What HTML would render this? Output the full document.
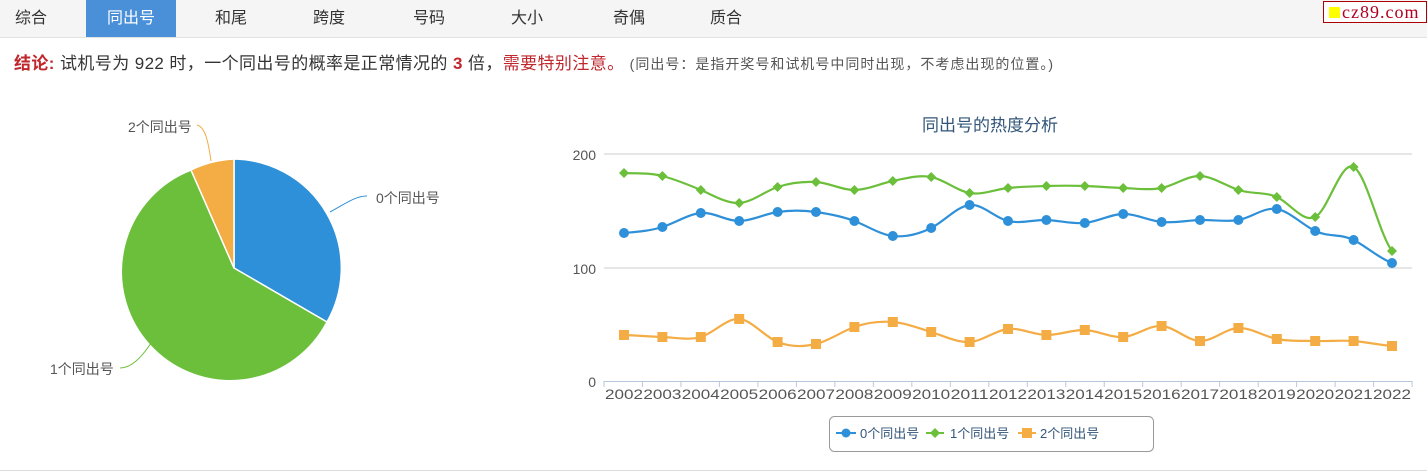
<!DOCTYPE html>
<html><head><meta charset="utf-8"><style>
body{margin:0;width:1427px;height:473px;background:#fff;font-family:"Liberation Sans","Noto Sans CJK SC",sans-serif;position:relative;overflow:hidden}
.nav{position:absolute;left:0;top:0;width:1427px;height:37px;background:#f5f5f5;border-bottom:1px solid #e3e3e3}
.nav span{position:absolute;top:0;height:37px;line-height:37px;font-size:16px;color:#333;text-align:center}
.nav .act{background:#4a90d9;color:#fff}
.logo{position:absolute;left:1323px;top:1px;width:102px;height:20px;border:1px solid #a00;background:#fff;font-family:"Liberation Serif",serif;font-size:18px;color:#b00020;line-height:20px;letter-spacing:1px}
.logo i{display:inline-block;width:11px;height:11px;background:#ff0;margin:0 2px 0 5px}
.msg{position:absolute;left:14px;top:49px;font-size:17px;letter-spacing:0.4px;color:#333;white-space:nowrap}
</style></head><body>
<div class="nav">
<span style="left:0;width:62px">综合</span>
<span class="act" style="left:86px;width:90px">同出号</span>
<span style="left:200px;width:62px">和尾</span>
<span style="left:298px;width:62px">跨度</span>
<span style="left:398px;width:62px">号码</span>
<span style="left:496px;width:62px">大小</span>
<span style="left:598px;width:62px">奇偶</span>
<span style="left:695px;width:62px">质合</span>
<div class="logo"><i></i>cz89.com</div>
</div>
<div class="msg"><b style="color:#c0272d">结论:</b> 试机号为 922 时，一个同出号的概率是正常情况的 <b style="color:#c0272d">3</b> 倍，<span style="color:#c0272d">需要特别注意。</span> <span style="font-size:14px;letter-spacing:1px;color:#555">(同出号：是指开奖号和试机号中同时出现，不考虑出现的位置。)</span></div>
<svg id="s" width="1427" height="473" style="position:absolute;left:0;top:0" font-family="Liberation Sans,Noto Sans CJK SC,sans-serif">
<path d="M234,268 L234,159 A109,109 0 0 1 327,322 Z" fill="#2e90d8" stroke="#fff" stroke-width="1.5"/>
<path d="M234,268 L327,322 A109,109 0 1 1 191,170 Z" fill="#6cbf3b" stroke="#fff" stroke-width="1.5"/>
<path d="M234,268 L191,170 A109,109 0 0 1 234,159 Z" fill="#f4ac45" stroke="#fff" stroke-width="1.5"/>
<path d="M330,212 C345,204 355,196 367,196" fill="none" stroke="#2e90d8"/>
<text x="376" y="203" font-size="14" fill="#555">0个同出号</text>
<path d="M211,161 C208,140 205,127 197,125" fill="none" stroke="#f4ac45"/>
<text x="128" y="132" font-size="14" fill="#555">2个同出号</text>
<path d="M151,343 C140,360 130,368 120,368" fill="none" stroke="#6cbf3b"/>
<text x="50" y="374" font-size="14" fill="#555">1个同出号</text>
<text x="990" y="131" font-size="17" fill="#33557a" text-anchor="middle">同出号的热度分析</text>
<line x1="604" y1="154" x2="1412" y2="154" stroke="#ccc"/>
<line x1="604" y1="268" x2="1412" y2="268" stroke="#ccc"/>
<line x1="604" y1="381.5" x2="1412" y2="381.5" stroke="#b8c8dc"/>
<text x="596" y="160" font-size="14" fill="#555" text-anchor="end">200</text>
<text x="596" y="274" font-size="14" fill="#555" text-anchor="end">100</text>
<text x="596" y="387" font-size="14" fill="#555" text-anchor="end">0</text>
<g id="g"></g>
<rect x="829.5" y="416.5" width="324" height="35" rx="5" fill="#fff" stroke="#999"/>
<line x1="836" y1="433" x2="856" y2="433" stroke="#2e90d8" stroke-width="2"/><circle cx="846" cy="433" r="4.5" fill="#2e90d8"/>
<text x="860" y="438" font-size="13" fill="#33557a">0个同出号</text>
<line x1="926" y1="433" x2="944" y2="433" stroke="#6cbf3b" stroke-width="2"/><path d="M935,428 L940,433 L935,438 L930,433Z" fill="#6cbf3b"/>
<text x="950" y="438" font-size="13" fill="#33557a">1个同出号</text>
<line x1="1018" y1="433" x2="1036" y2="433" stroke="#f4ac45" stroke-width="2"/><rect x="1022" y="428" width="10" height="10" fill="#f4ac45"/>
<text x="1040" y="438" font-size="13" fill="#33557a">2个同出号</text>
<line x1="0" y1="470.5" x2="1427" y2="470.5" stroke="#ddd"/>
</svg>
<script>
var B=[233,227,213,221,212,212,221,236,228,205,221,220,223,214,222,220,220,209,231,240,263];
var G=[173,176,190,203,187,182,190,181,177,193,188,186,186,188,188,176,190,197,217,167,251];
var O=[335,337,337,319,342,344,327,322,332,342,329,335,330,337,326,341,328,339,341,341,346];
var h='';
for(var i=0;i<=21;i++){var x=604+i*38.48;h+='<line x1="'+x+'" y1="381" x2="'+x+'" y2="387" stroke="#b8c8dc"/>';}
for(var i=0;i<21;i++){var x=624+i*38.4;h+='<text x="'+x+'" y="399" font-size="14" fill="#555" text-anchor="middle" textLength="38" lengthAdjust="spacingAndGlyphs">'+(2002+i)+'</text>';}
function path(a,c){var X=function(i){return 624+i*38.4};var d='M'+X(0)+','+a[0];
for(var i=0;i<a.length-1;i++){var p0=a[Math.max(i-1,0)],p1=a[i],p2=a[i+1],p3=a[Math.min(i+2,a.length-1)];
var t=0.2;d+=' C'+(X(i)+38.4*0.33)+','+(p1+(p2-p0)*t)+' '+(X(i+1)-38.4*0.33)+','+(p2-(p3-p1)*t)+' '+X(i+1)+','+p2;}
return '<path d="'+d+'" fill="none" stroke="'+c+'" stroke-width="2.2"/>';}
h+=path(B,'#2e90d8')+path(G,'#6cbf3b')+path(O,'#f4ac45');
for(var i=0;i<21;i++){var x=624+i*38.4;
h+='<circle cx="'+x+'" cy="'+B[i]+'" r="5" fill="#2e90d8"/>';
h+='<path d="M'+x+','+(G[i]-5)+' L'+(x+5)+','+G[i]+' L'+x+','+(G[i]+5)+' L'+(x-5)+','+G[i]+'Z" fill="#6cbf3b"/>';
h+='<rect x="'+(x-5)+'" y="'+(O[i]-5)+'" width="10" height="10" fill="#f4ac45"/>';}
document.getElementById('g').innerHTML=h;
</script>
</body></html>
